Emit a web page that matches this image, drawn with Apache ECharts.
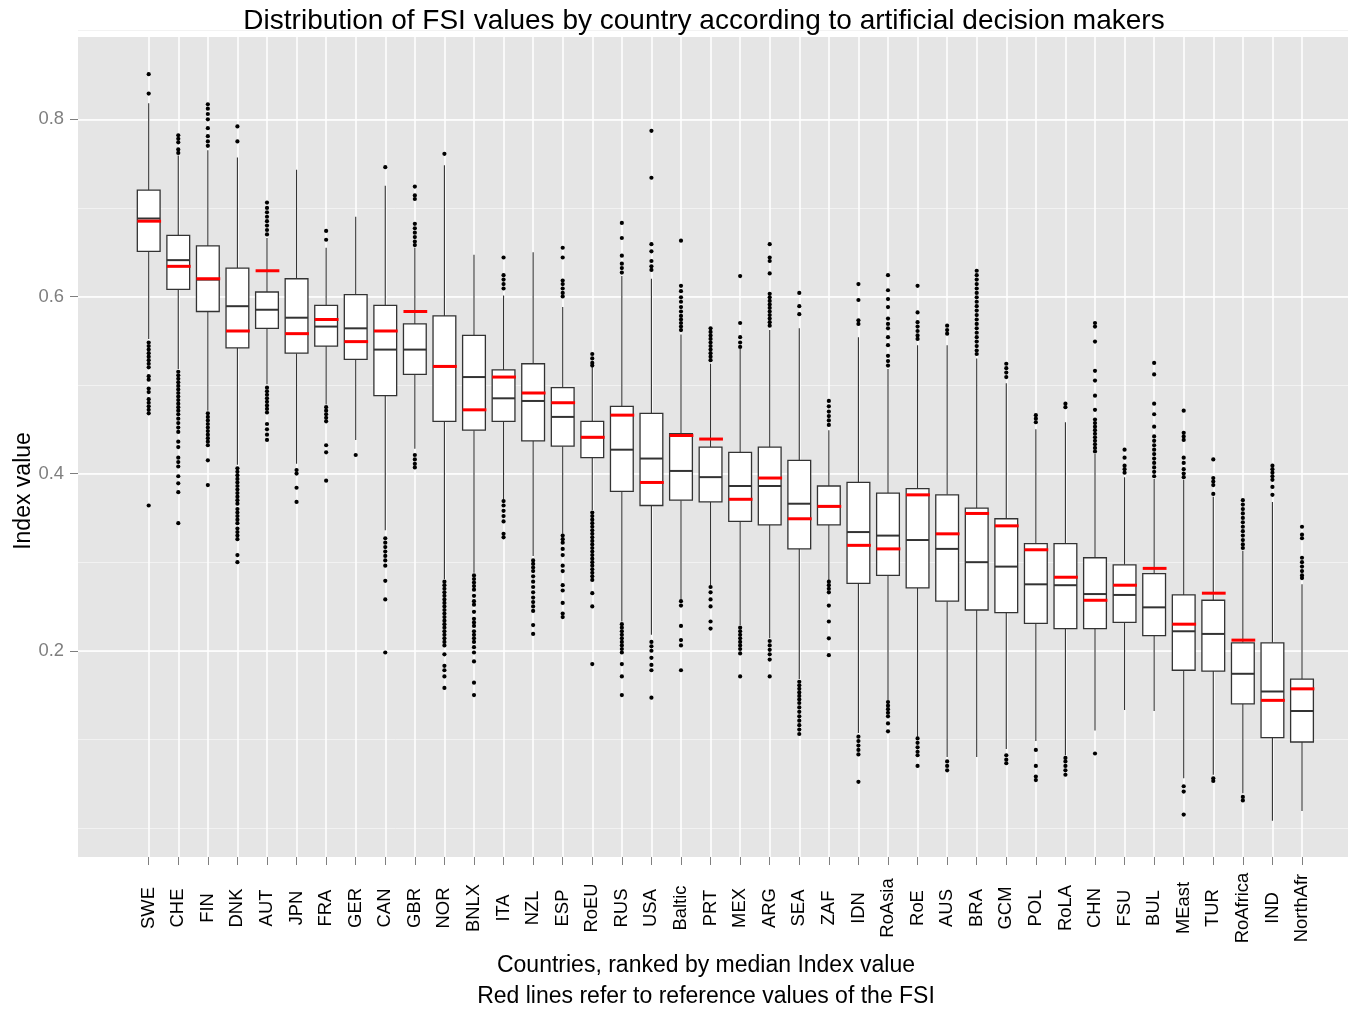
<!DOCTYPE html>
<html>
<head>
<meta charset="utf-8">
<script src="https://cdn.jsdelivr.net/npm/echarts@6/dist/echarts.min.js"></script>
<style>
  html, body { margin: 0; padding: 0; background: #fff; }
  #chart { width: 1357px; height: 1011px; }
</style>
</head>
<body>
<div id="chart"></div>
<script>
// countries, ranked by median index value
const countries = ['SWE', 'CHE', 'FIN', 'DNK', 'AUT', 'JPN', 'FRA', 'GER', 'CAN', 'GBR',
  'NOR', 'BNLX', 'ITA', 'NZL', 'ESP', 'RoEU', 'RUS', 'USA', 'Baltic', 'PRT',
  'MEX', 'ARG', 'SEA', 'ZAF', 'IDN', 'RoAsia', 'RoE', 'AUS', 'BRA', 'GCM',
  'POL', 'RoLA', 'CHN', 'FSU', 'BUL', 'MEast', 'TUR', 'RoAfrica', 'IND', 'NorthAfr'];

const whiskerLow = [0.552, 0.518, 0.471, 0.410, 0.501, 0.411, 0.478, 0.438, 0.336, 0.428,
  0.281, 0.288, 0.371, 0.307, 0.332, 0.359, 0.233, 0.218, 0.258, 0.274,
  0.229, 0.214, 0.168, 0.280, 0.107, 0.144, 0.103, 0.080, 0.080, 0.089,
  0.098, 0.082, 0.110, 0.133, 0.132, 0.056, 0.060, 0.039, 0.008, 0.019];
const q1 = [0.651, 0.608, 0.583, 0.542, 0.564, 0.536, 0.544, 0.529, 0.488, 0.512,
  0.459, 0.449, 0.459, 0.437, 0.431, 0.418, 0.380, 0.364, 0.370, 0.368,
  0.346, 0.342, 0.315, 0.342, 0.276, 0.285, 0.271, 0.256, 0.246, 0.243,
  0.231, 0.225, 0.225, 0.232, 0.217, 0.178, 0.177, 0.140, 0.102, 0.097];
const median = [0.688, 0.641, 0.619, 0.589, 0.585, 0.576, 0.566, 0.564, 0.540, 0.540,
  0.521, 0.509, 0.485, 0.482, 0.464, 0.441, 0.427, 0.417, 0.403, 0.396,
  0.386, 0.386, 0.366, 0.363, 0.334, 0.330, 0.325, 0.315, 0.300, 0.295,
  0.275, 0.274, 0.264, 0.263, 0.249, 0.222, 0.219, 0.174, 0.154, 0.132];
const q3 = [0.720, 0.669, 0.657, 0.632, 0.605, 0.620, 0.590, 0.602, 0.590, 0.569,
  0.578, 0.556, 0.517, 0.524, 0.497, 0.459, 0.476, 0.468, 0.445, 0.430,
  0.424, 0.430, 0.415, 0.386, 0.390, 0.378, 0.383, 0.376, 0.361, 0.349,
  0.321, 0.321, 0.305, 0.297, 0.287, 0.263, 0.257, 0.209, 0.209, 0.168];
const whiskerHigh = [0.818, 0.759, 0.765, 0.757, 0.666, 0.743, 0.655, 0.690, 0.725, 0.655,
  0.748, 0.647, 0.601, 0.650, 0.588, 0.520, 0.623, 0.620, 0.557, 0.524,
  0.541, 0.562, 0.564, 0.449, 0.554, 0.518, 0.545, 0.545, 0.530, 0.502,
  0.450, 0.458, 0.422, 0.396, 0.394, 0.393, 0.374, 0.313, 0.368, 0.275];
// reference values of the FSI (red lines)
const reference = [0.685, 0.634, 0.620, 0.561, 0.629, 0.558, 0.574, 0.549, 0.561, 0.583,
  0.521, 0.472, 0.509, 0.491, 0.480, 0.441, 0.466, 0.390, 0.443, 0.439,
  0.371, 0.395, 0.349, 0.363, 0.319, 0.315, 0.376, 0.332, 0.355, 0.341,
  0.314, 0.283, 0.257, 0.274, 0.293, 0.230, 0.265, 0.212, 0.144, 0.157];

const outliers = [
  [0.851, 0.829, 0.548, 0.544, 0.540, 0.536, 0.532, 0.528, 0.524, 0.520, 0.510, 0.506, 0.496, 0.492, 0.484, 0.480, 0.476, 0.472, 0.468, 0.364],
  [0.782, 0.778, 0.774, 0.766, 0.762, 0.515, 0.511, 0.507, 0.503, 0.499, 0.495, 0.491, 0.487, 0.483, 0.479, 0.475, 0.471, 0.467, 0.462, 0.457, 0.452, 0.447, 0.436, 0.430, 0.418, 0.413, 0.408, 0.397, 0.389, 0.379, 0.344],
  [0.817, 0.812, 0.806, 0.800, 0.790, 0.781, 0.775, 0.770, 0.468, 0.464, 0.460, 0.456, 0.452, 0.448, 0.444, 0.440, 0.436, 0.432, 0.415, 0.387],
  [0.792, 0.775, 0.406, 0.402, 0.398, 0.394, 0.390, 0.386, 0.382, 0.378, 0.374, 0.370, 0.366, 0.360, 0.356, 0.352, 0.348, 0.344, 0.338, 0.334, 0.330, 0.326, 0.308, 0.300],
  [0.706, 0.700, 0.695, 0.690, 0.685, 0.680, 0.675, 0.670, 0.497, 0.493, 0.489, 0.485, 0.481, 0.477, 0.473, 0.469, 0.456, 0.450, 0.444, 0.438],
  [0.404, 0.400, 0.384, 0.368],
  [0.674, 0.664, 0.475, 0.471, 0.467, 0.463, 0.459, 0.432, 0.424, 0.392],
  [0.421],
  [0.746, 0.327, 0.322, 0.317, 0.312, 0.307, 0.302, 0.296, 0.279, 0.258, 0.198],
  [0.724, 0.714, 0.710, 0.682, 0.677, 0.672, 0.667, 0.662, 0.658, 0.421, 0.416, 0.411, 0.407],
  [0.761, 0.278, 0.274, 0.270, 0.266, 0.262, 0.258, 0.254, 0.250, 0.246, 0.242, 0.238, 0.234, 0.230, 0.226, 0.222, 0.218, 0.214, 0.210, 0.206, 0.196, 0.183, 0.178, 0.171, 0.158],
  [0.285, 0.281, 0.277, 0.273, 0.269, 0.262, 0.256, 0.252, 0.244, 0.236, 0.232, 0.228, 0.222, 0.218, 0.214, 0.210, 0.204, 0.198, 0.188, 0.164, 0.150],
  [0.644, 0.624, 0.619, 0.614, 0.609, 0.369, 0.364, 0.358, 0.352, 0.346, 0.332, 0.328],
  [0.302, 0.298, 0.294, 0.290, 0.284, 0.278, 0.272, 0.266, 0.260, 0.255, 0.250, 0.245, 0.229, 0.219],
  [0.655, 0.644, 0.618, 0.614, 0.609, 0.604, 0.600, 0.330, 0.326, 0.322, 0.315, 0.308, 0.296, 0.290, 0.274, 0.268, 0.254, 0.242, 0.238],
  [0.535, 0.530, 0.525, 0.522, 0.356, 0.352, 0.348, 0.344, 0.340, 0.336, 0.332, 0.328, 0.324, 0.320, 0.316, 0.312, 0.308, 0.304, 0.300, 0.296, 0.292, 0.288, 0.284, 0.280, 0.265, 0.250, 0.185],
  [0.683, 0.666, 0.646, 0.637, 0.632, 0.627, 0.230, 0.226, 0.222, 0.218, 0.214, 0.210, 0.206, 0.202, 0.198, 0.185, 0.171, 0.150],
  [0.787, 0.734, 0.659, 0.651, 0.640, 0.634, 0.630, 0.210, 0.205, 0.200, 0.192, 0.184, 0.178, 0.147],
  [0.663, 0.612, 0.606, 0.599, 0.594, 0.588, 0.583, 0.578, 0.574, 0.570, 0.566, 0.562, 0.256, 0.251, 0.228, 0.212, 0.206, 0.178],
  [0.564, 0.560, 0.556, 0.552, 0.548, 0.544, 0.540, 0.536, 0.532, 0.528, 0.272, 0.266, 0.258, 0.250, 0.233, 0.225],
  [0.623, 0.570, 0.554, 0.548, 0.543, 0.226, 0.222, 0.218, 0.214, 0.210, 0.206, 0.202, 0.197, 0.171],
  [0.659, 0.644, 0.640, 0.626, 0.603, 0.599, 0.595, 0.591, 0.587, 0.583, 0.579, 0.575, 0.571, 0.567, 0.211, 0.206, 0.201, 0.196, 0.190, 0.171],
  [0.604, 0.589, 0.580, 0.165, 0.161, 0.157, 0.153, 0.149, 0.145, 0.141, 0.136, 0.131, 0.126, 0.121, 0.116, 0.111, 0.106],
  [0.482, 0.476, 0.470, 0.465, 0.460, 0.455, 0.278, 0.274, 0.270, 0.266, 0.251, 0.233, 0.214, 0.195],
  [0.614, 0.596, 0.573, 0.569, 0.103, 0.098, 0.093, 0.088, 0.083, 0.052],
  [0.624, 0.607, 0.597, 0.588, 0.575, 0.569, 0.564, 0.554, 0.545, 0.533, 0.527, 0.522, 0.142, 0.138, 0.134, 0.130, 0.126, 0.118, 0.109],
  [0.612, 0.582, 0.571, 0.566, 0.561, 0.556, 0.552, 0.101, 0.096, 0.091, 0.086, 0.082, 0.070],
  [0.567, 0.562, 0.558, 0.075, 0.070, 0.065],
  [0.629, 0.624, 0.619, 0.614, 0.609, 0.604, 0.599, 0.594, 0.589, 0.584, 0.579, 0.574, 0.569, 0.564, 0.559, 0.554, 0.549, 0.544, 0.539, 0.535],
  [0.524, 0.519, 0.514, 0.509, 0.082, 0.077, 0.073],
  [0.466, 0.462, 0.458, 0.088, 0.070, 0.058, 0.054],
  [0.479, 0.475, 0.079, 0.075, 0.070, 0.065, 0.060],
  [0.570, 0.566, 0.549, 0.516, 0.505, 0.488, 0.472, 0.461, 0.457, 0.453, 0.449, 0.445, 0.441, 0.437, 0.433, 0.429, 0.425, 0.084],
  [0.427, 0.418, 0.409, 0.405, 0.401],
  [0.525, 0.512, 0.479, 0.467, 0.453, 0.442, 0.437, 0.432, 0.427, 0.422, 0.417, 0.412, 0.407, 0.402, 0.397],
  [0.471, 0.446, 0.442, 0.438, 0.418, 0.412, 0.405, 0.400, 0.396, 0.047, 0.041, 0.015],
  [0.416, 0.395, 0.391, 0.387, 0.377, 0.056, 0.053],
  [0.370, 0.365, 0.360, 0.355, 0.350, 0.345, 0.340, 0.335, 0.330, 0.325, 0.320, 0.316, 0.035, 0.031],
  [0.409, 0.405, 0.401, 0.397, 0.393, 0.385, 0.376],
  [0.340, 0.331, 0.327, 0.305, 0.300, 0.295, 0.290, 0.285, 0.282]
];

// layout (pixels)
const W = 1357, H = 1011;
const panelLeft = 78, panelRight = 1348, panelTop = 37, panelBottom = 857;
const firstCatX = 148.7, lastCatX = 1302;
const zeroPx = 827.9, pxPerUnit = 885.75;
const yPix = v => zeroPx - v * pxPerUnit;
const yVal = p => (zeroPx - p) / pxPerUnit;
const FONT = '"Liberation Sans", Arial, sans-serif';

const boxData = countries.map((c, i) =>
  [i, whiskerLow[i], q1[i], median[i], q3[i], whiskerHigh[i], reference[i]]);

const outlierData = [];
outliers.forEach((list, i) => list.forEach(v => outlierData.push([i, v])));

function renderBox(params, api) {
  const i = api.value(0);
  const x = api.coord([i, 0])[0];
  const step = api.coord([1, 0])[0] - api.coord([0, 0])[0];
  const bw = step * 0.77;
  const y = k => api.coord([i, api.value(k)])[1];
  const pLow = y(1), pQ1 = y(2), pMed = y(3), pQ3 = y(4), pHigh = y(5), pRef = y(6);
  const dark = '#333333';
  return {
    type: 'group',
    children: [
      { type: 'line', shape: { x1: x, y1: pLow, x2: x, y2: pQ1 }, style: { stroke: dark, lineWidth: 1.1 } },
      { type: 'line', shape: { x1: x, y1: pQ3, x2: x, y2: pHigh }, style: { stroke: dark, lineWidth: 1.1 } },
      { type: 'rect', shape: { x: x - bw / 2, y: pQ3, width: bw, height: pQ1 - pQ3 },
        style: { fill: '#ffffff', stroke: dark, lineWidth: 1.3 } },
      { type: 'line', shape: { x1: x - bw / 2, y1: pMed, x2: x + bw / 2, y2: pMed }, style: { stroke: dark, lineWidth: 2 } },
      { type: 'line', shape: { x1: x - bw / 2, y1: pRef, x2: x + bw / 2 + 1, y2: pRef }, style: { stroke: '#ff0000', lineWidth: 3 } }
    ]
  };
}

const chart = echarts.init(document.getElementById('chart'), null, { renderer: 'canvas' });

const hiddenAxis = (g) => ({ gridIndex: g, type: 'value', show: false });

chart.setOption({
  animation: false,
  backgroundColor: '#ffffff',
  grid: [
    // panel background
    { left: panelLeft, width: panelRight - panelLeft, top: panelTop, height: panelBottom - panelTop,
      show: true, backgroundColor: '#E5E5E5', borderWidth: 0 },
    // minor horizontal grid lines
    { left: panelLeft, width: panelRight - panelLeft, top: yPix(0.9), height: yPix(0) - yPix(0.9) },
    // major horizontal grid lines and y labels
    { left: panelLeft, width: panelRight - panelLeft, top: yPix(0.8), height: yPix(0.2) - yPix(0.8) },
    // data
    { left: firstCatX, width: lastCatX - firstCatX, top: panelTop, height: panelBottom - panelTop }
  ],
  xAxis: [
    hiddenAxis(0), hiddenAxis(1), hiddenAxis(2),
    {
      gridIndex: 3, type: 'category', data: countries, boundaryGap: false, position: 'bottom',
      axisLine: { show: false, onZero: false },
      axisTick: { show: true, interval: 0, length: 8, lineStyle: { color: '#7F7F7F', width: 1 } },
      axisLabel: { interval: 0, rotate: 90, align: 'center', verticalAlign: 'middle', margin: 51,
        color: '#000000', fontSize: 18.4, fontFamily: FONT },
      splitLine: { show: true, interval: 0, lineStyle: { color: '#ffffff', width: 1.5 } }
    }
  ],
  yAxis: [
    hiddenAxis(0),
    {
      gridIndex: 1, type: 'value', min: 0, max: 0.9, interval: 0.1,
      axisLine: { show: false }, axisTick: { show: false }, axisLabel: { show: false },
      splitLine: { show: true, lineStyle: { color: '#F2F2F2', width: 1 } }
    },
    {
      gridIndex: 2, type: 'value', min: 0.2, max: 0.8, interval: 0.2,
      axisLine: { show: false },
      axisTick: { show: true, length: 8, lineStyle: { color: '#7F7F7F', width: 1 } },
      axisLabel: { color: '#7F7F7F', fontSize: 18.4, fontFamily: FONT, margin: 14,
        formatter: v => v.toFixed(1) },
      splitLine: { show: true, lineStyle: { color: '#ffffff', width: 1.5 } }
    },
    { gridIndex: 3, type: 'value', min: yVal(panelBottom), max: yVal(panelTop), show: false }
  ],
  series: [
    {
      type: 'custom', name: 'FSI', xAxisIndex: 3, yAxisIndex: 3,
      data: boxData, encode: { x: 0, y: [1, 2, 3, 4, 5, 6] },
      renderItem: renderBox, silent: true, z: 3
    },
    {
      type: 'scatter', name: 'outliers', xAxisIndex: 3, yAxisIndex: 3,
      data: outlierData, symbol: 'circle', symbolSize: 4.2,
      itemStyle: { color: '#000000', opacity: 1 }, silent: true, z: 4
    }
  ],
  graphic: [
    { type: 'text', x: 704, y: 21, z: 100,
      style: { text: 'Distribution of FSI values by country according to artificial decision makers',
        font: '28px ' + FONT, fill: '#000000', align: 'center', verticalAlign: 'middle' } },
    { type: 'text', x: 706, y: 966, z: 100,
      style: { text: 'Countries, ranked by median Index value',
        font: '23px ' + FONT, fill: '#000000', align: 'center', verticalAlign: 'middle' } },
    { type: 'text', x: 706, y: 997, z: 100,
      style: { text: 'Red lines refer to reference values of the FSI',
        font: '23px ' + FONT, fill: '#000000', align: 'center', verticalAlign: 'middle' } },
    { type: 'text', x: 24, y: 491, z: 100, rotation: Math.PI / 2,
      style: { text: 'Index value',
        font: '23px ' + FONT, fill: '#000000', align: 'center', verticalAlign: 'middle' } }
  ]
});
</script>
</body>
</html>
